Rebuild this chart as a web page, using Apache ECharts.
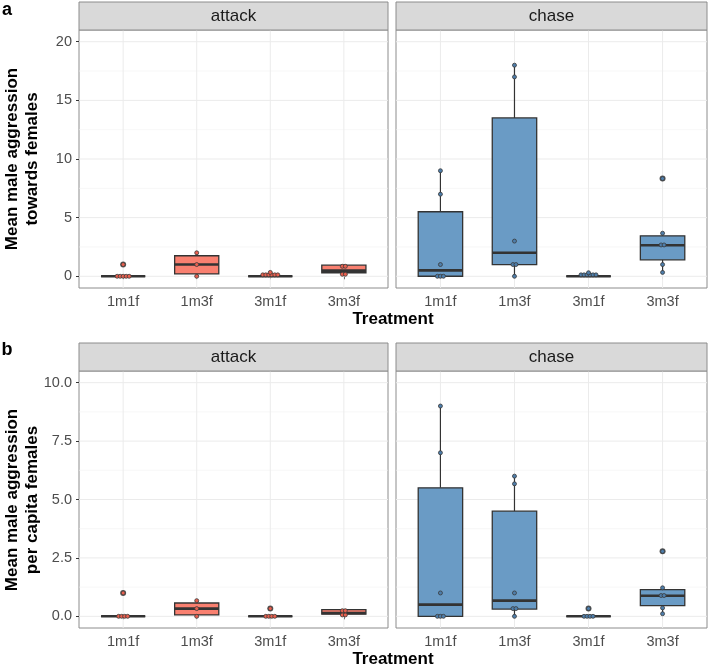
<!DOCTYPE html>
<html>
<head>
<meta charset="utf-8">
<script src="https://cdn.jsdelivr.net/npm/echarts@6/dist/echarts.min.js"></script>
<style>
html, body { margin:0; padding:0; background:#fff; }
#chart { width:709px; height:668px; }
</style>
</head>
<body>
<div id="chart"></div>
<script>
const treatments = ['1m1f', '1m3f', '3m1f', '3m3f'];
const facets = ['attack', 'chase'];

// panel a: towards females
const aYTicks = [0, 5, 10, 15, 20];
const aYMinor = [2.5, 7.5, 12.5, 17.5];
// box rows: [lower whisker, q1, median, q3, upper whisker]
const aAttackBox = [[0, 0, 0, 0, 0], [0, 0.2, 1, 1.75, 2], [0, 0, 0, 0, 0], [0.3, 0.3, 0.48, 0.95, 0.95]];
const aAttackOut = [[1, 1]];
const aAttackDots = [[0, 0, 0, 0, 0, 1], [0, 1, 2], [0.12, 0.12, 0.12, 0.12, 0.12, 0.12, 0.33], [0.17, 0.17, 0.85, 0.85]];
const aChaseBox = [[0, 0, 0.5, 5.5, 9], [0, 1, 2, 13.5, 18], [0, 0, 0, 0, 0], [0.33, 1.4, 2.65, 3.45, 3.67]];
const aChaseOut = [[4, 8.33]];
const aChaseDots = [[0, 0, 0, 1, 7, 9], [0, 1, 1, 3, 17, 18], [0.12, 0.12, 0.12, 0.12, 0.12, 0.12, 0.3], [0.33, 1, 2.67, 2.67, 3.67, 8.33]];

// panel b: per capita females
const bYTicks = [0, 2.5, 5, 7.5, 10];
const bYMinor = [1.25, 3.75, 6.25, 8.75];
const bAttackBox = [[0, 0, 0, 0, 0], [0, 0.06, 0.33, 0.57, 0.67], [0, 0, 0, 0, 0], [0.09, 0.09, 0.14, 0.29, 0.29]];
const bAttackOut = [[1, 1], [3, 0.33]];
const bAttackDots = [[0, 0, 0, 0, 1], [0, 0.33, 0.67], [0, 0, 0, 0, 0.33], [0.06, 0.06, 0.24, 0.24]];
const bChaseBox = [[0, 0, 0.5, 5.5, 9], [0, 0.31, 0.67, 4.5, 6], [0, 0, 0, 0, 0], [0.11, 0.46, 0.88, 1.14, 1.22]];
const bChaseOut = [[3, 0.33], [4, 2.78]];
const bChaseDots = [[0, 0, 0, 1, 7, 9], [0, 0.33, 0.33, 1, 5.67, 6], [0, 0, 0, 0, 0.33], [0.11, 0.36, 0.89, 0.89, 1.22, 2.78]];

const FONT = '"Liberation Sans", Arial, Helvetica, sans-serif';
const salmon = '#f98070';
const steel = '#6a9bc5';
const dark = '#333333';
const borderCol = '#8c8c8c';

const panelRects = [
    { left:79, top:30, width:309, height:258 },
    { left:396, top:30, width:311, height:258 },
    { left:79, top:371, width:309, height:257 },
    { left:396, top:371, width:311, height:257 }
];

function stackDots(groups) {
    let out = [];
    groups.forEach((vals, t) => {
        let counts = {}, seen = {};
        vals.forEach(v => { counts[v] = (counts[v] || 0) + 1; });
        vals.forEach(v => {
            let k = seen[v] || 0;
            seen[v] = k + 1;
            out.push([t + 1, v, k - (counts[v] - 1) / 2]);
        });
    });
    return out;
}

function boxRenderer(fill) {
    return (params, api) => {
        let x = api.value(0);
        let lo = api.coord([x, api.value(1)]);
        let q1 = api.coord([x, api.value(2)]);
        let md = api.coord([x, api.value(3)]);
        let q3 = api.coord([x, api.value(4)]);
        let hi = api.coord([x, api.value(5)]);
        let hw = api.size([0.6, 0])[0] / 2;
        return {
            type:'group',
            children:[
                { type:'line', shape:{ x1:lo[0], y1:lo[1], x2:q1[0], y2:q1[1] }, style:{ stroke:dark, lineWidth:1.2 } },
                { type:'line', shape:{ x1:q3[0], y1:q3[1], x2:hi[0], y2:hi[1] }, style:{ stroke:dark, lineWidth:1.2 } },
                { type:'rect', shape:{ x:q3[0] - hw, y:q3[1], width:hw * 2, height:q1[1] - q3[1] }, style:{ fill:fill, stroke:dark, lineWidth:1.3 } },
                { type:'line', shape:{ x1:md[0] - hw, y1:md[1], x2:md[0] + hw, y2:md[1] }, style:{ stroke:dark, lineWidth:2.6 } }
            ]
        };
    };
}

function dotRenderer(fill) {
    return (params, api) => {
        let p = api.coord([api.value(0), api.value(1)]);
        return {
            type:'circle',
            shape:{ cx:p[0] + api.value(2) * 3, cy:p[1], r:2 },
            style:{ fill:fill, stroke:'#3a3a3a', lineWidth:0.8 }
        };
    };
}

function gridLineRenderer(horizontal, width, color) {
    return (params, api) => {
        let cs = params.coordSys;
        if (horizontal) {
            let y = api.coord([1, api.value(1)])[1];
            return { type:'line', shape:{ x1:cs.x, y1:y, x2:cs.x + cs.width, y2:y }, style:{ stroke:color, lineWidth:width } };
        }
        let x = api.coord([api.value(0), 0])[0];
        return { type:'line', shape:{ x1:x, y1:cs.y, x2:x, y2:cs.y + cs.height }, style:{ stroke:color, lineWidth:width } };
    };
}

let grids = [], xAxes = [], yAxes = [], series = [];

function addPanel(i, box, outliers, dots, fill, dotFill, yMajor, yMinor, yMin, yMax, fmt) {
    let isLeft = i % 2 === 0;
    grids.push(Object.assign({ show:true, borderColor:borderCol, borderWidth:1, backgroundColor:'#fff' }, panelRects[i]));
    xAxes.push({
        gridIndex:i, type:'value', min:0.4, max:4.6,
        axisLine:{ show:false }, splitLine:{ show:false },
        axisTick:{ show:true, customValues:[1, 2, 3, 4], length:3, lineStyle:{ color:dark } },
        axisLabel:{ show:true, customValues:[1, 2, 3, 4], margin:6, color:'#4d4d4d', fontSize:14.5, fontFamily:FONT,
            formatter:v => treatments[Math.round(v) - 1] }
    });
    yAxes.push({
        gridIndex:i, type:'value', min:yMin, max:yMax,
        axisLine:{ show:false }, splitLine:{ show:false },
        axisTick:{ show:isLeft, customValues:yMajor, length:3, lineStyle:{ color:dark } },
        axisLabel:{ show:isLeft, customValues:yMajor, margin:7, color:'#4d4d4d', fontSize:14.5, fontFamily:FONT, formatter:fmt }
    });
    series.push({
        type:'custom', xAxisIndex:i, yAxisIndex:i, silent:true, z:1,
        encode:{ x:0, y:1 }, renderItem:gridLineRenderer(true, 0.6, '#f2f2f2'),
        data:yMinor.map(v => [1, v])
    });
    series.push({
        type:'custom', xAxisIndex:i, yAxisIndex:i, silent:true, z:1,
        encode:{ x:0, y:1 }, renderItem:gridLineRenderer(true, 1, '#ebebeb'),
        data:yMajor.map(v => [1, v])
    });
    series.push({
        type:'custom', xAxisIndex:i, yAxisIndex:i, silent:true, z:1,
        encode:{ x:0, y:1 }, renderItem:gridLineRenderer(false, 1, '#ebebeb'),
        data:[1, 2, 3, 4].map(v => [v, 0])
    });
    series.push({
        type:'custom', xAxisIndex:i, yAxisIndex:i, silent:true, z:2,
        encode:{ x:0, y:[1, 2, 3, 4, 5] }, renderItem:boxRenderer(fill),
        data:box.map((b, t) => [t + 1].concat(b))
    });
    series.push({
        type:'scatter', xAxisIndex:i, yAxisIndex:i, silent:true, z:3,
        symbolSize:6, itemStyle:{ color:dark },
        data:outliers
    });
    series.push({
        type:'custom', xAxisIndex:i, yAxisIndex:i, silent:true, z:4,
        encode:{ x:0, y:1 }, renderItem:dotRenderer(dotFill),
        data:stackDots(dots)
    });
}

const fmtA = v => String(v);
const fmtB = v => v.toFixed(1);
addPanel(0, aAttackBox, aAttackOut, aAttackDots, salmon, '#e8604f', aYTicks, aYMinor, -1, 21, fmtA);
addPanel(1, aChaseBox, aChaseOut, aChaseDots, steel, '#4e7eab', aYTicks, aYMinor, -1, 21, fmtA);
addPanel(2, bAttackBox, bAttackOut, bAttackDots, salmon, '#e8604f', bYTicks, bYMinor, -0.5, 10.5, fmtB);
addPanel(3, bChaseBox, bChaseOut, bChaseDots, steel, '#4e7eab', bYTicks, bYMinor, -0.5, 10.5, fmtB);

function strip(rect, top, label) {
    return [
        { type:'rect', shape:{ x:rect.left, y:top, width:rect.width, height:28 },
          style:{ fill:'#d9d9d9', stroke:borderCol, lineWidth:1 }, z:10 },
        { type:'text', x:rect.left + rect.width / 2, y:top + 14, z:11,
          style:{ text:label, font:'17px ' + FONT, fill:'#1a1a1a', textAlign:'center', textVerticalAlign:'middle' } }
    ];
}

let graphics = []
    .concat(strip(panelRects[0], 2, facets[0]))
    .concat(strip(panelRects[1], 2, facets[1]))
    .concat(strip(panelRects[2], 343, facets[0]))
    .concat(strip(panelRects[3], 343, facets[1]))
    .concat([
        { type:'text', x:7, y:10, style:{ text:'a', font:'bold 18px ' + FONT, fill:'#000', textAlign:'center', textVerticalAlign:'middle' } },
        { type:'text', x:7, y:350, style:{ text:'b', font:'bold 18px ' + FONT, fill:'#000', textAlign:'center', textVerticalAlign:'middle' } },
        { type:'text', x:393, y:319, style:{ text:'Treatment', font:'bold 17px ' + FONT, fill:'#000', textAlign:'center', textVerticalAlign:'middle' } },
        { type:'text', x:393, y:659, style:{ text:'Treatment', font:'bold 17px ' + FONT, fill:'#000', textAlign:'center', textVerticalAlign:'middle' } },
        { type:'text', x:22, y:159, rotation:Math.PI / 2,
          style:{ text:'Mean male aggression\ntowards females', font:'bold 17px ' + FONT, lineHeight:20, fill:'#000', textAlign:'center', textVerticalAlign:'middle' } },
        { type:'text', x:22, y:500, rotation:Math.PI / 2,
          style:{ text:'Mean male aggression\nper capita females', font:'bold 17px ' + FONT, lineHeight:20, fill:'#000', textAlign:'center', textVerticalAlign:'middle' } }
    ]);

let myChart = echarts.init(document.getElementById('chart'));
myChart.setOption({
    animation:false,
    backgroundColor:'#fff',
    textStyle:{ fontFamily:FONT },
    grid:grids,
    xAxis:xAxes,
    yAxis:yAxes,
    series:series,
    graphic:graphics
});
</script>
</body>
</html>
